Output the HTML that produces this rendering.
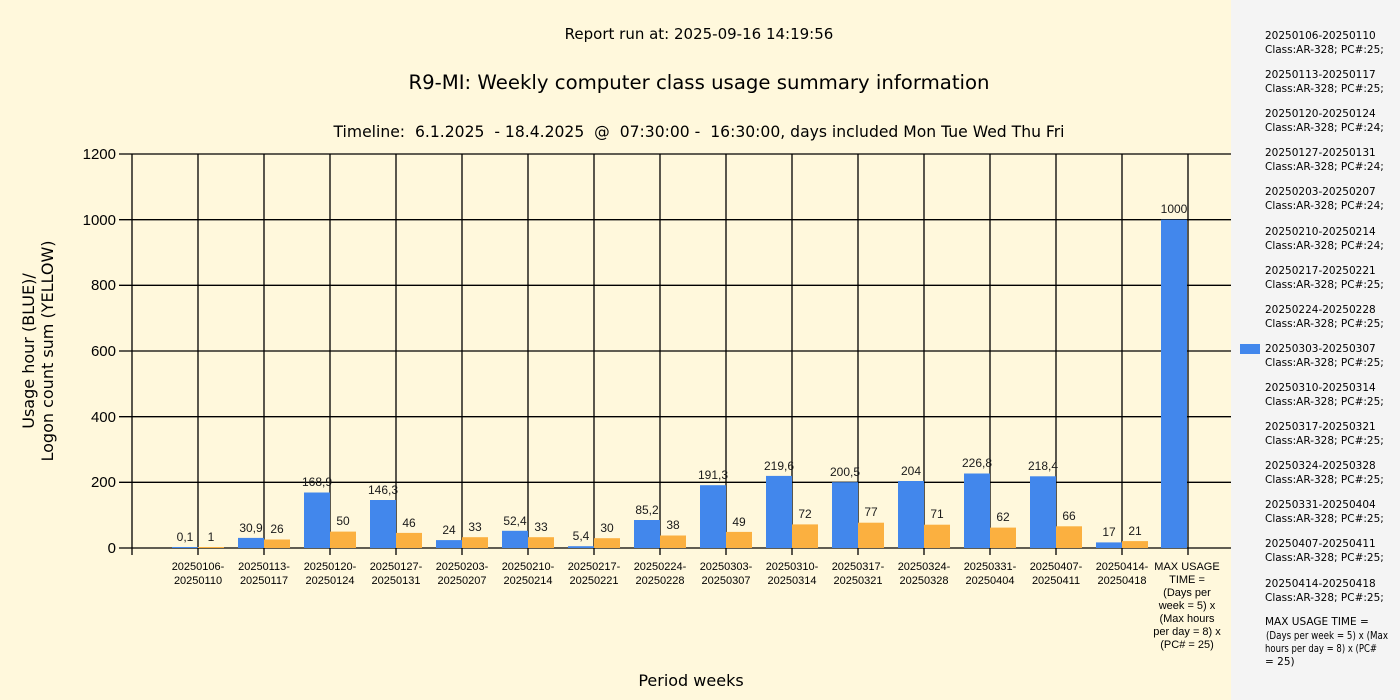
<!DOCTYPE html>
<html><head><meta charset="utf-8"><style>
body{margin:0;width:1400px;height:700px;overflow:hidden;background:#fff8dc;}
svg{display:block;font-family:"Liberation Sans",sans-serif;}
.dj{font-family:"DejaVu Sans",sans-serif;white-space:pre;}
</style></head><body>
<svg width="1400" height="700" xmlns="http://www.w3.org/2000/svg">
<rect x="0" y="0" width="1231" height="700" fill="#fff8dc"/>
<rect x="1231" y="0" width="169" height="700" fill="#f4f4f4"/>
<g class="dj" font-size="15" text-anchor="middle" fill="#000">
<text x="699" y="39">Report run at: 2025-09-16 14:19:56</text>
<text x="699" y="89" font-size="19.7">R9-MI: Weekly computer class usage summary information</text>
<text x="699" y="137" font-size="15.6" xml:space="preserve">Timeline:  6.1.2025  - 18.4.2025  @  07:30:00 -  16:30:00, days included Mon Tue Wed Thu Fri</text>
<text x="691" y="686" font-size="16">Period weeks</text>
<g transform="translate(37,351) rotate(-90)" font-size="16"><text x="0" y="-3">Usage hour (BLUE)/</text><text x="0" y="16">Logon count sum (YELLOW)</text></g>
</g>
<g stroke="#000" stroke-width="1.3">
<line x1="119" y1="154" x2="1231" y2="154"/><line x1="119" y1="219.7" x2="1231" y2="219.7"/><line x1="119" y1="285.3" x2="1231" y2="285.3"/><line x1="119" y1="351" x2="1231" y2="351"/><line x1="119" y1="416.7" x2="1231" y2="416.7"/><line x1="119" y1="482.3" x2="1231" y2="482.3"/><line x1="119" y1="548" x2="1231" y2="548"/>
<line x1="132" y1="154" x2="132" y2="555"/><line x1="198" y1="154" x2="198" y2="555"/><line x1="264" y1="154" x2="264" y2="555"/><line x1="330" y1="154" x2="330" y2="555"/><line x1="396" y1="154" x2="396" y2="555"/><line x1="462" y1="154" x2="462" y2="555"/><line x1="528" y1="154" x2="528" y2="555"/><line x1="594" y1="154" x2="594" y2="555"/><line x1="660" y1="154" x2="660" y2="555"/><line x1="726" y1="154" x2="726" y2="555"/><line x1="792" y1="154" x2="792" y2="555"/><line x1="858" y1="154" x2="858" y2="555"/><line x1="924" y1="154" x2="924" y2="555"/><line x1="990" y1="154" x2="990" y2="555"/><line x1="1056" y1="154" x2="1056" y2="555"/><line x1="1122" y1="154" x2="1122" y2="555"/><line x1="1188" y1="154" x2="1188" y2="555"/>
</g>
<g font-size="15" text-anchor="end">
<text x="116" y="159">1200</text><text x="116" y="225">1000</text><text x="116" y="290">800</text><text x="116" y="356">600</text><text x="116" y="422">400</text><text x="116" y="487">200</text><text x="116" y="553">0</text>
</g>
<g fill="#4287ec">
<rect x="172" y="547" width="26" height="1"/><rect x="238" y="537.9" width="26" height="10.1"/><rect x="304" y="492.5" width="26" height="55.5"/><rect x="370" y="500" width="26" height="48"/><rect x="436" y="540.1" width="26" height="7.9"/><rect x="502" y="530.8" width="26" height="17.2"/><rect x="568" y="546.2" width="26" height="1.8"/><rect x="634" y="520" width="26" height="28"/><rect x="700" y="485.2" width="26" height="62.8"/><rect x="766" y="475.9" width="26" height="72.1"/><rect x="832" y="482.2" width="26" height="65.8"/><rect x="898" y="481" width="26" height="67"/><rect x="964" y="473.5" width="26" height="74.5"/><rect x="1030" y="476.3" width="26" height="71.7"/><rect x="1096" y="542.4" width="26" height="5.6"/><rect x="1161" y="219.7" width="26" height="328.3"/>
</g>
<g fill="#fbb040">
<rect x="198" y="547" width="26" height="1"/><rect x="264" y="539.5" width="26" height="8.5"/><rect x="330" y="531.6" width="26" height="16.4"/><rect x="396" y="532.9" width="26" height="15.1"/><rect x="462" y="537.2" width="26" height="10.8"/><rect x="528" y="537.2" width="26" height="10.8"/><rect x="594" y="538.2" width="26" height="9.8"/><rect x="660" y="535.5" width="26" height="12.5"/><rect x="726" y="531.9" width="26" height="16.1"/><rect x="792" y="524.4" width="26" height="23.6"/><rect x="858" y="522.7" width="26" height="25.3"/><rect x="924" y="524.7" width="26" height="23.3"/><rect x="990" y="527.6" width="26" height="20.4"/><rect x="1056" y="526.3" width="26" height="21.7"/><rect x="1122" y="541.1" width="26" height="6.9"/>
</g>
<g font-size="12" text-anchor="middle" fill="#1a1a1a">
<text x="185" y="541">0,1</text><text x="251" y="532">30,9</text><text x="317" y="486">168,9</text><text x="383" y="494">146,3</text><text x="449" y="534">24</text><text x="515" y="525">52,4</text><text x="581" y="540">5,4</text><text x="647" y="514">85,2</text><text x="713" y="479">191,3</text><text x="779" y="470">219,6</text><text x="845" y="476">200,5</text><text x="911" y="475">204</text><text x="977" y="467">226,8</text><text x="1043" y="470">218,4</text><text x="1109" y="536">17</text><text x="1174" y="213">1000</text>
<text x="211" y="541">1</text><text x="277" y="533">26</text><text x="343" y="525">50</text><text x="409" y="527">46</text><text x="475" y="531">33</text><text x="541" y="531">33</text><text x="607" y="532">30</text><text x="673" y="529">38</text><text x="739" y="526">49</text><text x="805" y="518">72</text><text x="871" y="516">77</text><text x="937" y="518">71</text><text x="1003" y="521">62</text><text x="1069" y="520">66</text><text x="1135" y="535">21</text>
</g>
<g font-size="11" text-anchor="middle">
<text x="198" y="570">20250106-</text><text x="198" y="584">20250110</text>
<text x="264" y="570">20250113-</text><text x="264" y="584">20250117</text>
<text x="330" y="570">20250120-</text><text x="330" y="584">20250124</text>
<text x="396" y="570">20250127-</text><text x="396" y="584">20250131</text>
<text x="462" y="570">20250203-</text><text x="462" y="584">20250207</text>
<text x="528" y="570">20250210-</text><text x="528" y="584">20250214</text>
<text x="594" y="570">20250217-</text><text x="594" y="584">20250221</text>
<text x="660" y="570">20250224-</text><text x="660" y="584">20250228</text>
<text x="726" y="570">20250303-</text><text x="726" y="584">20250307</text>
<text x="792" y="570">20250310-</text><text x="792" y="584">20250314</text>
<text x="858" y="570">20250317-</text><text x="858" y="584">20250321</text>
<text x="924" y="570">20250324-</text><text x="924" y="584">20250328</text>
<text x="990" y="570">20250331-</text><text x="990" y="584">20250404</text>
<text x="1056" y="570">20250407-</text><text x="1056" y="584">20250411</text>
<text x="1122" y="570">20250414-</text><text x="1122" y="584">20250418</text>
<text x="1187" y="570">MAX USAGE</text><text x="1187" y="583">TIME =</text><text x="1187" y="596">(Days per</text><text x="1187" y="609">week = 5) x</text><text x="1187" y="622">(Max hours</text><text x="1187" y="635">per day = 8) x</text><text x="1187" y="648">(PC# = 25)</text>
</g>
<rect x="1240" y="344" width="20" height="10" fill="#4287ec"/>
<g class="dj" font-size="10.5" fill="#000">
<text x="1265" y="39">20250106-20250110</text><text x="1265" y="53">Class:AR-328; PC#:25;</text>
<text x="1265" y="78">20250113-20250117</text><text x="1265" y="92">Class:AR-328; PC#:25;</text>
<text x="1265" y="117">20250120-20250124</text><text x="1265" y="131">Class:AR-328; PC#:24;</text>
<text x="1265" y="156">20250127-20250131</text><text x="1265" y="170">Class:AR-328; PC#:24;</text>
<text x="1265" y="195">20250203-20250207</text><text x="1265" y="209">Class:AR-328; PC#:24;</text>
<text x="1265" y="235">20250210-20250214</text><text x="1265" y="249">Class:AR-328; PC#:24;</text>
<text x="1265" y="274">20250217-20250221</text><text x="1265" y="288">Class:AR-328; PC#:25;</text>
<text x="1265" y="313">20250224-20250228</text><text x="1265" y="327">Class:AR-328; PC#:25;</text>
<text x="1265" y="352">20250303-20250307</text><text x="1265" y="366">Class:AR-328; PC#:25;</text>
<text x="1265" y="391">20250310-20250314</text><text x="1265" y="405">Class:AR-328; PC#:25;</text>
<text x="1265" y="430">20250317-20250321</text><text x="1265" y="444">Class:AR-328; PC#:25;</text>
<text x="1265" y="469">20250324-20250328</text><text x="1265" y="483">Class:AR-328; PC#:25;</text>
<text x="1265" y="508">20250331-20250404</text><text x="1265" y="522">Class:AR-328; PC#:25;</text>
<text x="1265" y="547">20250407-20250411</text><text x="1265" y="561">Class:AR-328; PC#:25;</text>
<text x="1265" y="587">20250414-20250418</text><text x="1265" y="601">Class:AR-328; PC#:25;</text>
<text x="1265" y="625">MAX USAGE TIME =</text>
<text x="1266" y="639" textLength="122" lengthAdjust="spacingAndGlyphs">(Days per week = 5) x (Max</text>
<text x="1265" y="652" textLength="112" lengthAdjust="spacingAndGlyphs">hours per day = 8) x (PC#</text>
<text x="1265" y="665">= 25)</text>
</g>
</svg>
</body></html>
